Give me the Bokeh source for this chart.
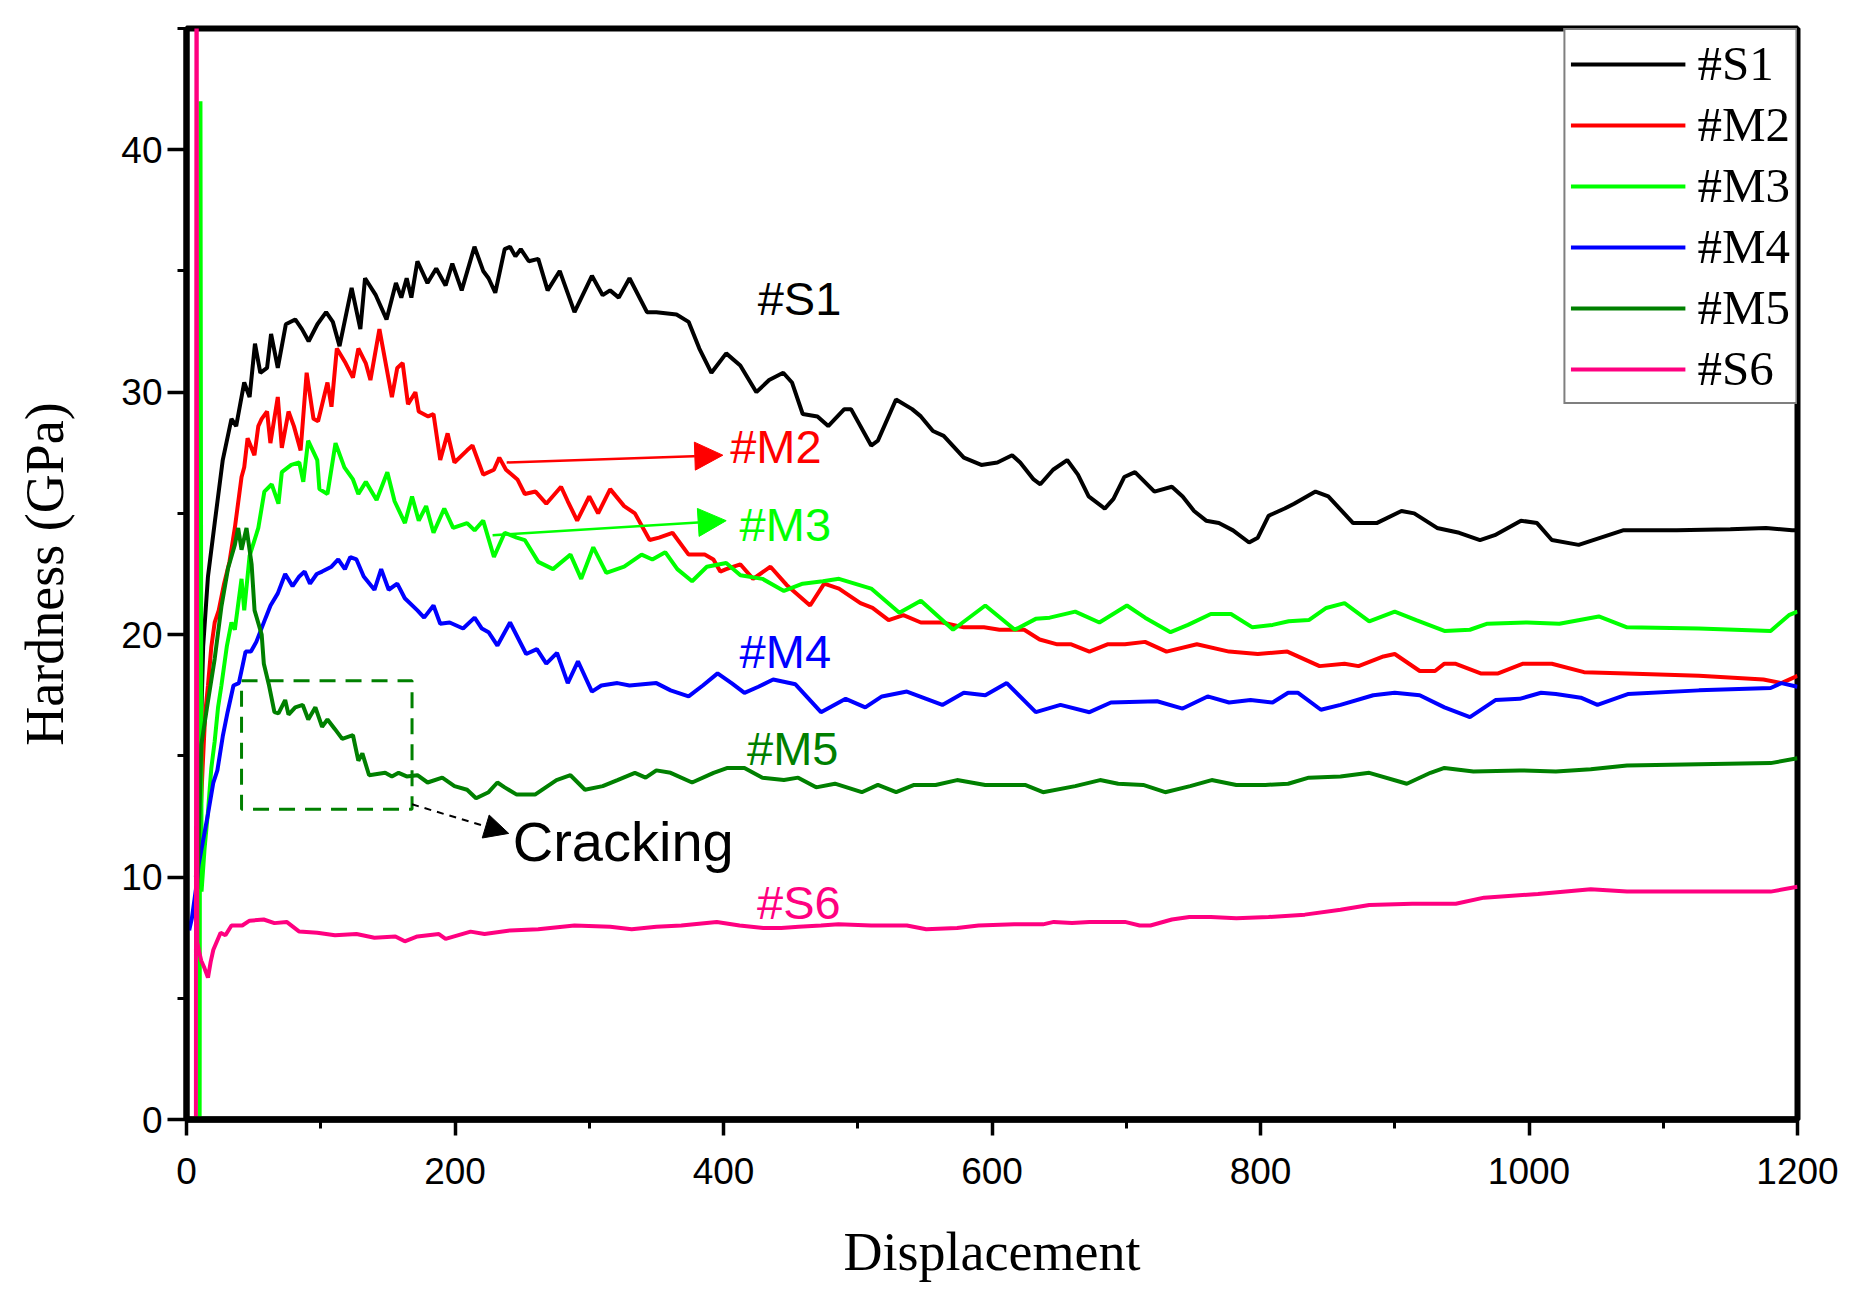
from bokeh.plotting import figure
from bokeh.models import Range1d, Legend, LegendItem, Label, Arrow, NormalHead, FixedTicker
from bokeh.embed import file_html
from bokeh.resources import INLINE

# ---------------- data (displacement, hardness GPa) ----------------
s1 = [(7, 10), (8.7, 12.2), (10.5, 15.5), (12.4, 19.5), (16, 22.4), (21, 24.6), (27, 27.2), (33.5, 28.9),
      (37, 28.6), (43, 30.4), (47, 29.8), (51, 32.0), (55, 30.8), (60, 31.0), (63, 32.4), (68, 31.0),
      (74, 32.8), (81, 33.0), (86, 32.6), (91, 32.1), (97.5, 32.8), (104, 33.3), (109, 32.9), (114, 31.9),
      (123, 34.3), (129.5, 32.6), (133, 34.7), (141, 34.0), (149, 33.0), (156, 34.5), (160, 33.9),
      (164, 34.7), (167.5, 33.9), (172, 35.4), (179.5, 34.5), (186, 35.1), (193, 34.4), (198, 35.3),
      (205, 34.2), (214.5, 36.0), (221, 35.0), (225, 34.7), (230, 34.1), (237, 35.9), (241, 36.0),
      (245, 35.6), (249, 35.9), (255, 35.4), (262, 35.5), (269, 34.2), (278, 35.0), (289, 33.3),
      (302, 34.8), (310, 34.0), (315.5, 34.2), (322, 33.9), (330, 34.7), (343, 33.3), (350, 33.3),
      (365, 33.2), (374, 32.9), (382, 31.8), (391, 30.8), (402, 31.6), (412.5, 31.1), (424.5, 30.0),
      (434, 30.5), (444.5, 30.8), (451, 30.4), (459, 29.1), (470, 29.0), (478, 28.6), (490, 29.3),
      (495, 29.3), (510, 27.8), (515, 28.0), (528.5, 29.7), (540.5, 29.3), (547, 29.0), (556, 28.4),
      (564, 28.2), (579, 27.3), (592, 27.0), (604, 27.1), (615, 27.4), (621, 27.1), (631, 26.4),
      (636, 26.2), (645.5, 26.8), (656, 27.2), (664, 26.6), (672, 25.7), (684, 25.2), (690.5, 25.6),
      (698.5, 26.5), (706.5, 26.7), (721, 25.9), (734, 26.1), (742, 25.7), (750.5, 25.1), (759.5, 24.7),
      (769, 24.6), (779.5, 24.3), (791.5, 23.8), (798, 24.0), (806, 24.9), (818, 25.2), (825, 25.4),
      (841, 25.9), (850.5, 25.7), (869, 24.6), (886.5, 24.6), (905, 25.1), (914.5, 25.0), (931.5, 24.4),
      (948, 24.2), (963.5, 23.9), (974.5, 24.1), (994, 24.7), (1006, 24.6), (1017, 23.9), (1037, 23.7),
      (1070, 24.3), (1110, 24.3), (1150, 24.35), (1176.5, 24.4), (1196, 24.3), (1200, 24.3)]

m2 = [(8, 9.5), (10, 12), (12, 14.5), (14, 16.8), (16, 17.9), (18.5, 19.5), (21, 20.5), (24, 21.0),
      (28, 22.1), (32, 23.0), (36, 24.4), (41, 26.5), (43, 26.9), (45.5, 28.1), (50.6, 27.4), (53.5, 28.6),
      (56, 28.9), (60, 29.2), (62.5, 27.9), (68, 29.8), (71, 27.7), (76, 29.2), (80, 28.6), (85, 27.6),
      (89.5, 30.8), (94.6, 28.9), (98, 28.8), (105, 30.4), (108, 29.4), (112, 31.8), (118.5, 31.2),
      (124, 30.6), (128, 31.8), (133.5, 31.2), (137, 30.5), (143.7, 32.6), (149, 31.0), (153, 29.8),
      (157, 31.0), (161, 31.2), (165, 29.5), (170.5, 30.0), (173, 29.2), (180, 29.0), (184, 29.1),
      (189, 27.2), (194.5, 28.3), (199.6, 27.1), (209, 27.6), (213, 27.8), (221, 26.6), (229, 26.8),
      (233, 27.3), (238, 26.8), (246.5, 26.4), (252, 25.8), (260, 25.9), (268, 25.4), (279, 26.1),
      (284, 25.5), (291, 24.7), (300, 25.7), (306.6, 25.0), (315.6, 26.0), (326, 25.3), (334, 25.0),
      (345, 23.9), (352, 24.0), (362, 24.2), (374, 23.3), (386, 23.3), (392.5, 23.1), (397.6, 22.6),
      (402, 22.7), (412.5, 22.9), (422, 22.3), (435, 22.8), (447, 22.05), (464.5, 21.2), (475, 22.1),
      (486, 21.9), (502, 21.3), (511, 21.1), (523, 20.6), (534, 20.8), (547, 20.5), (563, 20.5),
      (579, 20.3), (594, 20.3), (605.6, 20.2), (624, 20.2), (635.5, 19.8), (648.6, 19.6), (659, 19.6),
      (672.6, 19.3), (686, 19.6), (699, 19.6), (714, 19.7), (730, 19.3), (752.6, 19.6), (776.6, 19.3),
      (798, 19.2), (820, 19.3), (844, 18.7), (862.6, 18.8), (873, 18.7), (891.6, 19.1), (900, 19.2),
      (918.6, 18.5), (930, 18.5), (937, 18.8), (945, 18.8), (964, 18.4), (977, 18.4), (995.6, 18.8),
      (1017, 18.8), (1041, 18.45), (1073, 18.4), (1126.6, 18.3), (1174.6, 18.15), (1188, 18.0), (1200, 18.3)]

m3 = [(9.8, 0), (10.4, 42), (11.2, 9.4), (13.5, 11.2), (16, 12.7), (18.5, 14.5), (21, 15.6), (23.5, 17.0),
      (26, 17.9), (30, 19.5), (33.5, 20.5), (36, 20.2), (41, 22.3), (43, 21.0), (47, 23.25), (53.5, 24.4),
      (58, 25.9), (63.5, 26.2), (68.5, 25.4), (71, 26.7), (78, 27.0), (84, 27.1), (87, 26.3), (90.6, 28.0),
      (97.4, 27.2), (99, 26.0), (105, 25.8), (111, 27.9), (117.6, 26.9), (124, 26.4), (128, 25.8),
      (133.6, 26.3), (141.6, 25.55), (149.6, 26.7), (155, 25.5), (162.7, 24.6), (168, 25.7), (173, 24.7),
      (178.5, 25.3), (184, 24.2), (192, 25.2), (198.6, 24.4), (209, 24.6), (214.6, 24.3), (221, 24.7),
      (229, 23.2), (237, 24.2), (246, 24.0), (252, 23.9), (262, 23.0), (273, 22.7), (286, 23.3),
      (294, 22.3), (303, 23.6), (312.7, 22.55), (326, 22.8), (339, 23.3), (347, 23.1), (356.6, 23.4),
      (365.6, 22.7), (376.6, 22.2), (387.6, 22.8), (402, 22.95), (412.6, 22.45), (429, 22.3), (445, 21.8),
      (459, 22.1), (474, 22.2), (486, 22.3), (510, 21.9), (531, 20.9), (547, 21.4), (571, 20.2),
      (595, 21.2), (617, 20.2), (632.6, 20.65), (643, 20.7), (662, 20.95), (680, 20.5), (700.5, 21.2),
      (714, 20.7), (733, 20.1), (746, 20.4), (763, 20.85), (778, 20.85), (794, 20.3), (809, 20.4),
      (821, 20.55), (836, 20.6), (849, 21.1), (862.6, 21.3), (881, 20.55), (900, 20.95), (916, 20.6),
      (937, 20.15), (956, 20.2), (969, 20.45), (998.6, 20.5), (1022.6, 20.45), (1052, 20.75), (1073, 20.3),
      (1126.6, 20.25), (1180, 20.15), (1193.6, 20.8), (1200, 20.95)]

m4 = [(2, 7.8), (4, 8.3), (7, 9.5), (9, 10.5), (12, 11.4), (16, 12.6), (20, 13.9), (23, 14.4), (27, 15.8),
      (30.6, 16.8), (35, 17.9), (39, 18.0), (44, 19.3), (48, 19.3), (52, 19.7), (59, 20.7), (62.6, 21.2),
      (68, 21.7), (73.5, 22.5), (79, 22.0), (84, 22.4), (88, 22.6), (92, 22.1), (97, 22.5), (101, 22.6),
      (108, 22.8), (113, 23.1), (118, 22.7), (122, 23.2), (126.6, 23.1), (132, 22.4), (140, 21.85),
      (145, 22.7), (150.6, 21.85), (157, 22.1), (162.6, 21.5), (172, 21.0), (177, 20.7), (184, 21.2),
      (189, 20.45), (196, 20.5), (206, 20.25), (214.6, 20.7), (220, 20.25), (225, 20.1), (231.6, 19.55),
      (241, 20.5), (253, 19.2), (261, 19.4), (268, 18.8), (276, 19.25), (284, 18.0), (291.6, 18.9),
      (302, 17.65), (309, 17.9), (321, 18.0), (330, 17.9), (350, 18.0), (360.6, 17.7), (374, 17.45),
      (384.6, 17.9), (395.6, 18.4), (406, 18.0), (415.6, 17.6), (426, 17.85), (437, 18.15), (453.6, 17.95),
      (472.6, 16.8), (491, 17.35), (505.6, 17.0), (518, 17.45), (536.6, 17.65), (563, 17.1), (579, 17.6),
      (595, 17.5), (611, 18.0), (632.6, 16.8), (651, 17.1), (672.6, 16.8), (688.6, 17.2), (723, 17.25),
      (742, 16.95), (760.6, 17.45), (776.6, 17.2), (792.6, 17.3), (809, 17.2), (820.6, 17.6), (828, 17.6),
      (845, 16.9), (859.6, 17.1), (884, 17.5), (900, 17.6), (918.6, 17.5), (937, 17.0), (956, 16.6),
      (975, 17.3), (993, 17.35), (1009, 17.6), (1020, 17.55), (1038.6, 17.4), (1051, 17.1), (1073.6, 17.55),
      (1126.6, 17.7), (1180, 17.8), (1188, 18.0), (1200, 17.85)]

m5 = [(8, 9.5), (9.7, 12.7), (11, 15.45), (16, 17.25), (21, 19.0), (26, 21.15), (31, 22.75), (36, 23.7),
      (38.5, 24.4), (41, 23.5), (44.7, 24.4), (48.5, 22.9), (50.7, 21.0), (56, 20.0), (57.6, 18.8),
      (61.5, 17.9), (65.5, 16.8), (68.5, 16.75), (73.5, 17.3), (76, 16.7), (81, 17.0), (86.6, 17.1),
      (90.7, 16.5), (96, 17.0), (101, 16.2), (105, 16.5), (110.6, 16.1), (116, 15.7), (124, 15.85),
      (128, 14.8), (131, 15.1), (136, 14.2), (148, 14.3), (153, 14.15), (158, 14.3), (164, 14.15),
      (172, 14.2), (179.6, 13.9), (190.5, 14.1), (199.6, 13.75), (209, 13.6), (215.7, 13.25), (225, 13.5),
      (231.6, 13.9), (237, 13.7), (246, 13.4), (259.6, 13.4), (275.6, 14.0), (286, 14.2), (296.8, 13.6),
      (310, 13.75), (321, 14.0), (334, 14.3), (342, 14.1), (350, 14.4), (360.6, 14.3), (376.6, 13.9),
      (392.6, 14.3), (403, 14.5), (415.6, 14.5), (429, 14.1), (445, 14.0), (455.6, 14.1), (469, 13.7),
      (483, 13.85), (503, 13.5), (515, 13.8), (528.6, 13.5), (542, 13.8), (558, 13.8), (574, 14.0),
      (595, 13.8), (624.6, 13.8), (638, 13.5), (662, 13.75), (680.5, 14.0), (694, 13.85), (712.6, 13.8),
      (729, 13.5), (747.6, 13.75), (763.6, 14.0), (782, 13.8), (803.6, 13.8), (820.6, 13.85), (836, 14.1),
      (859.6, 14.15), (881, 14.3), (909, 13.85), (926.6, 14.3), (937, 14.5), (958.6, 14.35), (993, 14.4),
      (1020, 14.35), (1046, 14.45), (1073, 14.6), (1126.6, 14.65), (1180, 14.7), (1200, 14.9)]

s6 = [(7.0, 0), (7.5, 60), (8.0, 7.3), (9.5, 6.9), (11, 6.55), (13, 6.3), (16, 5.85), (18, 6.5), (20, 7.0),
      (25.4, 7.7), (29, 7.6), (33.5, 8.0), (41.5, 8.0), (47, 8.2), (57.5, 8.25), (65.5, 8.1), (74.6, 8.15),
      (84, 7.75), (97.4, 7.7), (110.6, 7.6), (126.6, 7.65), (140, 7.5), (155.6, 7.55), (162.6, 7.35),
      (172, 7.55), (188, 7.65), (193, 7.45), (211.6, 7.75), (222, 7.65), (241, 7.8), (262, 7.85),
      (289, 8.0), (315.6, 7.95), (331.6, 7.85), (350, 7.95), (368.6, 8.0), (395, 8.15), (412, 8.0),
      (429.6, 7.9), (443, 7.9), (456, 7.95), (472.6, 8.0), (485.6, 8.05), (510, 8.0), (536.6, 8.0),
      (551, 7.85), (574, 7.9), (590, 8.0), (616.6, 8.05), (638, 8.05), (646, 8.15), (659.6, 8.1),
      (672.6, 8.15), (699, 8.15), (710, 8.0), (718, 8.0), (734, 8.25), (747, 8.35), (763, 8.35),
      (782, 8.3), (806, 8.35), (833, 8.45), (859.6, 8.65), (881, 8.85), (913, 8.9), (945.5, 8.9),
      (966.5, 9.15), (1006.7, 9.3), (1046, 9.5), (1073, 9.4), (1126.6, 9.4), (1180, 9.4), (1200, 9.6)]

series_names = ["#S1", "#M2", "#M3", "#M4", "#M5", "#S6"]
series_data = [s1, m2, m3, m4, m5, s6]
series_colors = ["#000000", "#FF0000", "#00FF00", "#0000FF", "#008000", "#FF0080"]

x_ticks = [0, 200, 400, 600, 800, 1000, 1200]
y_ticks = [0, 10, 20, 30, 40]

# ---------------- figure ----------------
p = figure(width=1847, height=1286, output_backend="svg", toolbar_location=None,
           x_range=Range1d(0, 1200), y_range=Range1d(0, 45),
           min_border_left=186, min_border_right=50, min_border_top=28, min_border_bottom=167)
p.background_fill_color = "white"
p.border_fill_color = "white"
p.grid.grid_line_color = None
p.outline_line_color = "black"
p.outline_line_width = 6

renderers = []
for name, data, color in zip(series_names, series_data, series_colors):
    xs = [d[0] for d in data]
    ys = [d[1] for d in data]
    r = p.line(xs, ys, line_color=color, line_width=4)
    renderers.append((name, r))

# axes
for ax in (p.xaxis[0], p.yaxis[0]):
    ax.axis_line_color = "black"
    ax.major_tick_line_color = "black"
    ax.minor_tick_line_color = "black"
    ax.major_tick_line_width = 3.5
    ax.minor_tick_line_width = 3
    ax.major_tick_in = 0
    ax.minor_tick_in = 0
    ax.major_label_text_font = "Liberation Sans"
    ax.major_label_text_font_size = "37px"
    ax.major_label_text_color = "black"
    ax.axis_label_text_font = "Liberation Serif"
    ax.axis_label_text_font_size = "54px"
    ax.axis_label_text_font_style = "normal"
    ax.axis_label_text_color = "black"

p.xaxis[0].ticker = FixedTicker(ticks=x_ticks, minor_ticks=list(range(0, 1201, 100)))
p.yaxis[0].ticker = FixedTicker(ticks=y_ticks, minor_ticks=list(range(0, 46, 5)))
p.xaxis[0].axis_line_width = 6.5
p.yaxis[0].axis_line_width = 6
p.xaxis[0].major_tick_out = 16
p.xaxis[0].minor_tick_out = 9
p.yaxis[0].major_tick_out = 19
p.yaxis[0].minor_tick_out = 9
p.xaxis[0].major_label_standoff = 22
p.yaxis[0].major_label_standoff = 5
p.xaxis.axis_label = "Displacement"
p.yaxis.axis_label = "Hardness (GPa)"
p.xaxis[0].axis_label_standoff = 35
p.yaxis[0].axis_label_standoff = 43

# legend
legend = Legend(items=[LegendItem(label=n, renderers=[r]) for n, r in renderers],
                location="top_right", margin=0, padding=5, spacing=4,
                glyph_width=115, glyph_height=40, label_standoff=12,
                label_text_font="Liberation Serif", label_text_font_size="49px",
                label_text_color="black", border_line_color="black", border_line_width=2.5,
                background_fill_color="white", background_fill_alpha=1.0)
p.add_layout(legend, "center")

# annotations
label_font = "Liberation Sans"
labels = [("#S1", 425.5, 33.85, "#000000"), ("#M2", 405.0, 27.75, "#FF0000"),
          ("#M3", 412.0, 24.55, "#00FF00"), ("#M4", 412.0, 19.3, "#0000FF"),
          ("#M5", 417.5, 15.3, "#008000"), ("#S6", 425.0, 8.95, "#FF0080")]
for txt, lx, ly, col in labels:
    p.add_layout(Label(x=lx, y=ly, text=txt, text_font=label_font, text_font_size="47px",
                       text_color=col, text_baseline="alphabetic", text_align="left"))
p.add_layout(Label(x=243, y=11.45, text="Cracking", text_font=label_font, text_font_size="56px",
                   text_color="black", text_baseline="alphabetic", text_align="left"))

p.add_layout(Arrow(end=NormalHead(size=28, fill_color="#FF0000", line_color="#FF0000"),
                   x_start=238.5, y_start=27.1, x_end=399.5, y_end=27.4,
                   line_color="#FF0000", line_width=2.5))
p.add_layout(Arrow(end=NormalHead(size=28, fill_color="#00FF00", line_color="#00FF00"),
                   x_start=228, y_start=24.1, x_end=402, y_end=24.7,
                   line_color="#00FF00", line_width=2.5))
p.add_layout(Arrow(end=NormalHead(size=24, fill_color="black", line_color="black"),
                   x_start=168, y_start=13.0, x_end=240, y_end=11.8,
                   line_color="black", line_width=2, line_dash="7 6"))

# dashed box around cracking region
p.quad(left=[41], right=[168], bottom=[12.8], top=[18.1], fill_alpha=0,
       line_color="#008000", line_width=3, line_dash="16 10")

open("out.html", "w").write(file_html(p, INLINE))
